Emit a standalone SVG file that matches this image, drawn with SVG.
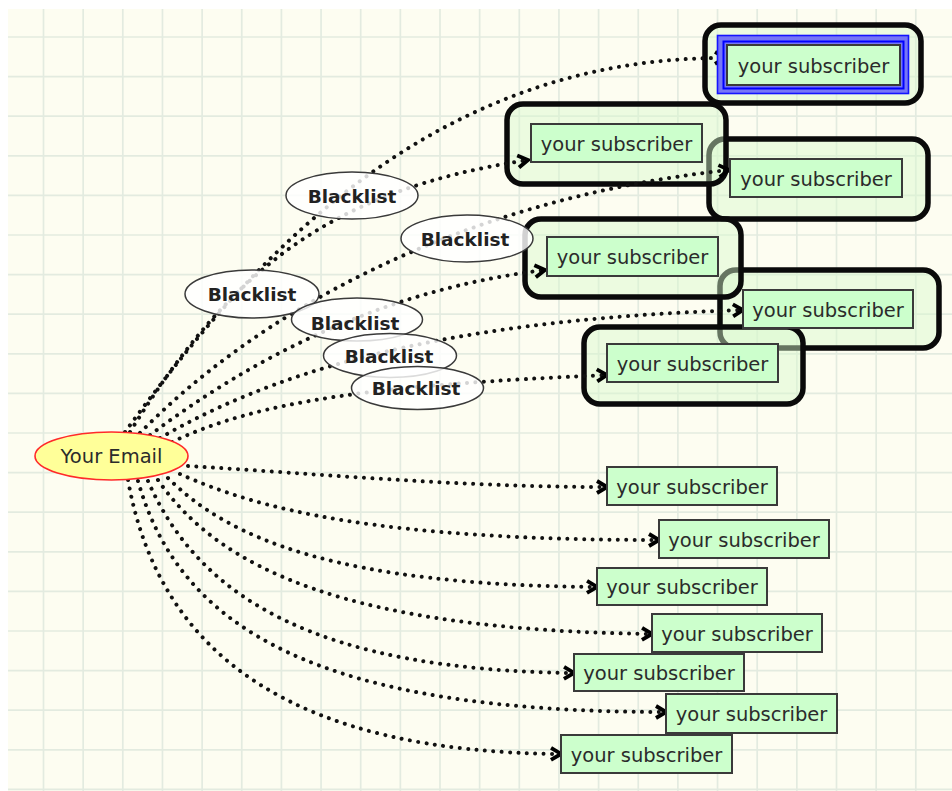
<svg xmlns="http://www.w3.org/2000/svg" width="952" height="791" viewBox="0 0 952 791">
<defs>
<style>
.grid{stroke:#e3ebe0;stroke-width:1.7;fill:none}
.frame{fill:#d8f8cc;fill-opacity:0.45;stroke:#0a0a0a;stroke-width:5.5}
.conn{fill:none;stroke:#111;stroke-width:4;stroke-linecap:round;stroke-dasharray:0.01 8.4}
.bl{fill:#ffffff;fill-opacity:0.82;stroke:#3a3a3a;stroke-width:1.5}
.bltxt{font-family:"DejaVu Sans",Verdana,sans-serif;font-weight:bold;font-size:18.5px;fill:#222;text-anchor:middle}
.sub{fill:#ccffcc;stroke:#3a3a3a;stroke-width:2}
.subtxt{font-family:"DejaVu Sans",Verdana,sans-serif;font-size:19.5px;fill:#2b2b2b;text-anchor:middle}
</style>
<marker id="chev" markerUnits="userSpaceOnUse" viewBox="0 0 16 16" refX="13" refY="8" markerWidth="16" markerHeight="16" orient="auto">
<path d="M3,2 L13,8 L3,14" fill="none" stroke="#000" stroke-width="3.8" stroke-linejoin="miter"/>
</marker>
</defs>
<rect x="0" y="0" width="952" height="791" fill="#ffffff"/>
<rect x="8" y="9" width="944" height="782" fill="#fdfdf1"/>
<path class="grid" d="M43.5,9V791M83.15,9V791M122.8,9V791M162.45,9V791M202.1,9V791M241.75,9V791M281.4,9V791M321.05,9V791M360.7,9V791M400.35,9V791M440,9V791M479.65,9V791M519.3,9V791M558.95,9V791M598.6,9V791M638.25,9V791M677.9,9V791M717.55,9V791M757.2,9V791M796.85,9V791M836.5,9V791M876.15,9V791M915.8,9V791
M8,37H952M8,76.6H952M8,116.2H952M8,155.8H952M8,195.4H952M8,235H952M8,274.6H952M8,314.2H952M8,353.8H952M8,393.4H952M8,433H952M8,472.6H952M8,512.2H952M8,551.8H952M8,591.4H952M8,631H952M8,670.6H952M8,710.2H952M8,749.8H952M8,789.4H952"/>
<g id="highlights">
<rect class="frame" x="709" y="139" width="219" height="80" rx="16"/>
<rect class="frame" x="705" y="25" width="216" height="78" rx="16"/>
<rect class="frame" x="507" y="104" width="219" height="80" rx="16"/>
<rect class="frame" x="720" y="270" width="219" height="78" rx="16"/>
<rect class="frame" x="525" y="219" width="216" height="78" rx="16"/>
<rect class="frame" x="584" y="327" width="219" height="77" rx="16"/>
</g>
<g id="connectors">
<path class="conn" marker-end="url(#chev)" d="M125,432 C250,260 430,57 725,58"/>
<path class="conn" marker-end="url(#chev)" d="M130,432 C230,270 330,190 528,160"/>
<path class="conn" marker-end="url(#chev)" d="M140,433 C250,320 450,200 729,170"/>
<path class="conn" marker-end="url(#chev)" d="M150,435 C250,360 380,290 545,270"/>
<path class="conn" marker-end="url(#chev)" d="M160,438 C260,380 420,320 743,310"/>
<path class="conn" marker-end="url(#chev)" d="M172,442 C260,400 380,385 607,375"/>
<path class="conn" marker-end="url(#chev)" d="M188,466 C320,474 460,487 607,487"/>
<path class="conn" marker-end="url(#chev)" d="M180,474 C260,510 380,540 659,540"/>
<path class="conn" marker-end="url(#chev)" d="M168,478 C230,540 340,585 597,587"/>
<path class="conn" marker-end="url(#chev)" d="M158,480 C220,570 350,630 652,634"/>
<path class="conn" marker-end="url(#chev)" d="M148,481 C200,600 320,670 574,673"/>
<path class="conn" marker-end="url(#chev)" d="M138,481 C180,630 320,712 666,712"/>
<path class="conn" marker-end="url(#chev)" d="M128,480 C160,660 300,752 561,754"/>
</g>
<g id="email">
<ellipse cx="111.5" cy="456" rx="76.5" ry="24" fill="#ffff99" stroke="#ff2a2a" stroke-width="1.6"/>
<text x="111.5" y="463" class="subtxt">Your Email</text>
</g>
<g id="blacklist1"><ellipse class="bl" cx="352" cy="195.5" rx="66" ry="23.5"/><text class="bltxt" x="352" y="202.5">Blacklist</text></g>
<g id="blacklist2"><ellipse class="bl" cx="467" cy="238.5" rx="66" ry="23.5"/><text class="bltxt" x="465" y="245.5">Blacklist</text></g>
<g id="blacklist3"><ellipse class="bl" cx="252" cy="294" rx="67" ry="24"/><text class="bltxt" x="252" y="301">Blacklist</text></g>
<g id="blacklist4"><ellipse class="bl" cx="357" cy="319.5" rx="65.5" ry="21.5"/><text class="bltxt" x="355" y="330">Blacklist</text></g>
<g id="blacklist5"><ellipse class="bl" cx="390" cy="355.5" rx="66.5" ry="22"/><text class="bltxt" x="389" y="363">Blacklist</text></g>
<g id="blacklist6"><ellipse class="bl" cx="417.5" cy="388" rx="66" ry="21.5"/><text class="bltxt" x="416" y="394.5">Blacklist</text></g>
<g id="sub1">
<rect x="717.5" y="35.5" width="191" height="58" fill="#7676f6" stroke="#1414ff" stroke-width="1.6"/>
<rect x="723.5" y="41.5" width="180" height="47" fill="none" stroke="#0000ff" stroke-width="2"/>
<rect class="sub" x="727" y="45" width="173" height="40"/><text class="subtxt" x="813.5" y="72.5">your subscriber</text></g>
<g id="sub2"><rect class="sub" x="531" y="124" width="171" height="38"/><text class="subtxt" x="616.5" y="150.5">your subscriber</text></g>
<g id="sub3"><rect class="sub" x="730" y="159" width="172" height="38"/><text class="subtxt" x="816" y="185.5">your subscriber</text></g>
<g id="sub4"><rect class="sub" x="547" y="237" width="171" height="39"/><text class="subtxt" x="632.5" y="264">your subscriber</text></g>
<g id="sub5"><rect class="sub" x="743" y="290" width="170" height="38"/><text class="subtxt" x="828" y="316.5">your subscriber</text></g>
<g id="sub6"><rect class="sub" x="607" y="344" width="171" height="38"/><text class="subtxt" x="692.5" y="370.5">your subscriber</text></g>
<g id="sub7"><rect class="sub" x="607" y="467" width="170" height="38"/><text class="subtxt" x="692" y="493.5">your subscriber</text></g>
<g id="sub8"><rect class="sub" x="659" y="520" width="170" height="38"/><text class="subtxt" x="744" y="546.5">your subscriber</text></g>
<g id="sub9"><rect class="sub" x="597" y="568" width="170" height="37"/><text class="subtxt" x="682" y="594">your subscriber</text></g>
<g id="sub10"><rect class="sub" x="652" y="614" width="170" height="38"/><text class="subtxt" x="737" y="640.5">your subscriber</text></g>
<g id="sub11"><rect class="sub" x="574" y="654" width="170" height="37"/><text class="subtxt" x="659" y="680">your subscriber</text></g>
<g id="sub12"><rect class="sub" x="666" y="694" width="171" height="39"/><text class="subtxt" x="751.5" y="721">your subscriber</text></g>
<g id="sub13"><rect class="sub" x="561" y="735" width="171" height="38"/><text class="subtxt" x="646.5" y="761.5">your subscriber</text></g>
</svg>
